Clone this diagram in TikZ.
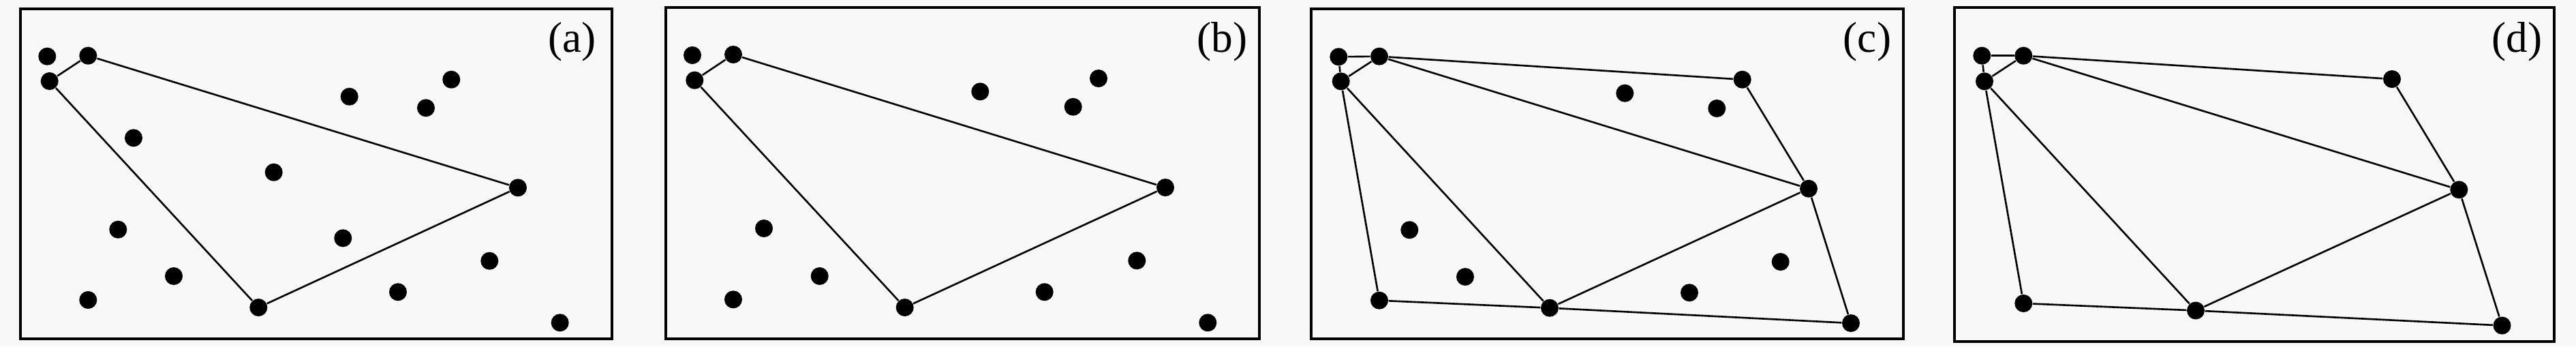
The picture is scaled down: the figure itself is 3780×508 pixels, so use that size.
\documentclass[tikz,border=0pt]{standalone}
\usepackage{fontspec}
\setmainfont{Liberation Serif}
\begin{document}
\begin{tikzpicture}[x=0.01cm,y=-0.01cm,
  pt/.style={circle,fill=black,draw=none,minimum size=0.26cm,inner sep=0pt},
  frm/.style={draw=black,line width=1.15pt},
  edge/.style={draw=black,line width=0.75pt},
  lbl/.style={inner sep=0pt,font=\fontsize{18}{20}\selectfont}]
\useasboundingbox[fill={rgb,255:red,248;green,248;blue,248}] (0,0) rectangle (3780,508);
% frames
\draw[frm] (30,13) rectangle (898,497);
\draw[frm] (977,11) rectangle (1848,497);
\draw[frm] (1924,12.7) rectangle (2793,496.7);
\draw[frm] (2868,11) rectangle (3748,501);
% labels
\node[lbl] (la) at (839.5,61.7) {(a)};
\node[lbl] (lb) at (1793.3,61) {(b)};
\node[lbl] (lc) at (2740,61) {(c)};
\node[lbl] (ld) at (3693.3,61.7) {(d)};
% panel a
\node[pt] (a0) at (69.3,82.7) {};
\node[pt] (a1) at (129.3,81.7) {};
\node[pt] (a2) at (72.7,119) {};
\node[pt] (a3) at (196,202.3) {};
\node[pt] (a4) at (401.7,252.7) {};
\node[pt] (a5) at (173.3,336.7) {};
\node[pt] (a6) at (255,405) {};
\node[pt] (a7) at (129.3,440) {};
\node[pt] (a8) at (379.3,451) {};
\node[pt] (a9) at (503.3,349.3) {};
\node[pt] (a10) at (512.7,141.7) {};
\node[pt] (a11) at (662.3,116.7) {};
\node[pt] (a12) at (625,158.3) {};
\node[pt] (a13) at (760,275.3) {};
\node[pt] (a14) at (718.3,382.7) {};
\node[pt] (a15) at (584,428.3) {};
\node[pt] (a16) at (821.7,473.3) {};
\draw[edge] (a1) -- (a2);
\draw[edge] (a1) -- (a13);
\draw[edge] (a2) -- (a8);
\draw[edge] (a8) -- (a13);
% panel b
\node[pt] (b0) at (1016,81) {};
\node[pt] (b1) at (1076,80) {};
\node[pt] (b2) at (1019.3,117.7) {};
\node[pt] (b3) at (1438.3,134.3) {};
\node[pt] (b4) at (1121,335) {};
\node[pt] (b5) at (1202.7,405) {};
\node[pt] (b6) at (1076,439.3) {};
\node[pt] (b7) at (1327.7,451) {};
\node[pt] (b8) at (1612,115) {};
\node[pt] (b9) at (1574.7,156.7) {};
\node[pt] (b10) at (1710,275) {};
\node[pt] (b11) at (1668.3,382.3) {};
\node[pt] (b12) at (1532.7,428.3) {};
\node[pt] (b13) at (1772.3,473.3) {};
\draw[edge] (b1) -- (b2);
\draw[edge] (b1) -- (b10);
\draw[edge] (b2) -- (b7);
\draw[edge] (b7) -- (b10);
% panel c
\node[pt] (cA) at (1964.3,83.3) {};
\node[pt] (cB) at (2024,82.7) {};
\node[pt] (cC) at (1967.7,119.3) {};
\node[pt] (cD) at (2556.7,116.7) {};
\node[pt] (c1) at (2384.3,136.7) {};
\node[pt] (c2) at (2519.3,159) {};
\node[pt] (cF) at (2654,276.7) {};
\node[pt] (c3) at (2612.7,384) {};
\node[pt] (cI) at (2716,474) {};
\node[pt] (c4) at (2068.3,337.3) {};
\node[pt] (c5) at (2150,406) {};
\node[pt] (cH) at (2024,440.7) {};
\node[pt] (cG) at (2274,451.7) {};
\node[pt] (c6) at (2479,429.3) {};
\draw[edge] (cA) -- (cB);
\draw[edge] (cA) -- (cC);
\draw[edge] (cB) -- (cC);
\draw[edge] (cB) -- (cD);
\draw[edge] (cB) -- (cF);
\draw[edge] (cC) -- (cG);
\draw[edge] (cC) -- (cH);
\draw[edge] (cH) -- (cG);
\draw[edge] (cG) -- (cI);
\draw[edge] (cG) -- (cF);
\draw[edge] (cF) -- (cI);
\draw[edge] (cD) -- (cF);
% panel d
\node[pt] (dA) at (2908.3,81.7) {};
\node[pt] (dB) at (2969.3,81.7) {};
\node[pt] (dC) at (2912,119.3) {};
\node[pt] (dD) at (3510,116) {};
\node[pt] (dF) at (3608.3,278.3) {};
\node[pt] (dG) at (3222,455.5) {};
\node[pt] (dH) at (2969.3,445) {};
\node[pt] (dI) at (3671.5,477.5) {};
\draw[edge] (dA) -- (dB);
\draw[edge] (dA) -- (dC);
\draw[edge] (dB) -- (dC);
\draw[edge] (dB) -- (dD);
\draw[edge] (dB) -- (dF);
\draw[edge] (dC) -- (dG);
\draw[edge] (dC) -- (dH);
\draw[edge] (dH) -- (dG);
\draw[edge] (dG) -- (dI);
\draw[edge] (dG) -- (dF);
\draw[edge] (dF) -- (dI);
\draw[edge] (dD) -- (dF);
\end{tikzpicture}
\end{document}
